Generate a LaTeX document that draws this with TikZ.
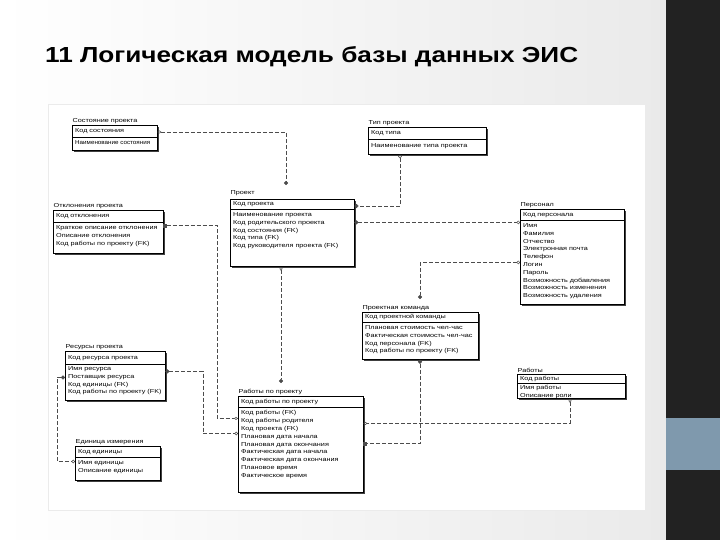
\documentclass[tikz,border=0pt]{standalone}
\usepackage{fontspec}
\setmainfont{Liberation Sans}
\newfontfamily\titlefont[FakeStretch=1.2]{Liberation Sans}
\newfontfamily\erfont[FakeStretch=1.25]{Liberation Sans}
\newfontfamily\ernarrow[FakeStretch=1.08]{Liberation Sans}
\usepackage{tikz}
\usetikzlibrary{arrows.meta, positioning, calc, shadows}
\definecolor{slidedark}{RGB}{34,34,34}
\definecolor{slideblue}{RGB}{127,153,173}
\definecolor{slidegray}{RGB}{234,234,234}

\begin{document}
\begin{tikzpicture}[
    x=1pt, y=-1pt,
    etitle/.style={anchor=south west, inner sep=0.5pt, font=\erfont\fontsize{5.8}{7}\selectfont},
    ekey/.style={draw, fill=white, anchor=north west, inner xsep=3pt, inner ysep=0pt,
                 align=left, font=\erfont\fontsize{5.8}{7}\selectfont,
                 drop shadow={shadow xshift=1.6pt, shadow yshift=-1.6pt, fill=black!75, opacity=1}},
    eatt/.style={draw, fill=white, anchor=north west, inner sep=0pt,
                 drop shadow={shadow xshift=1.6pt, shadow yshift=-1.6pt, fill=black!75, opacity=1}},
    etxt/.style={anchor=north west, inner sep=0pt, align=left,
                 font=\erfont\fontsize{5.8}{7.8}\selectfont},
    rel/.style={draw=black!70, line width=0.5pt, dash pattern=on 4pt off 2pt},
    tO/.tip={Circle[open, length=3.5pt]},
    tD/.tip={Diamond[open, length=4pt, width=3pt]},
    tS/.tip={Square[length=3.5pt]},
    tC/.tip={Circle[length=4pt]}
  ]
  \useasboundingbox (0,0) rectangle (720,540);
  % slide background
  \shade[left color=white, right color=slidegray] (0,0) rectangle (666,540);
  \fill[slidedark] (666,0) rectangle (720,540);
  \fill[slideblue] (666,418) rectangle (720,470);
  \fill[white, draw=black!8] (48,104) rectangle (645,510);
  \node[anchor=base west, inner sep=0pt, font=\titlefont\bfseries\fontsize{21.8}{24}\selectfont]
    (title) at (45,63) {11 Логическая модель базы данных ЭИС};

  % Состояние проекта
  \node[ekey, text width=79pt, minimum height=12pt] (sost) at (72,125) {Код состояния};
  \node[eatt, minimum width=85pt, minimum height=13pt] (sostA) at (sost.south west) {};
  \node[etxt, font=\ernarrow\fontsize{5.8}{7.8}\selectfont] (sostT)
    at ([xshift=3pt, yshift=-3pt]sostA.north west) {Наименование состояния};
  \node[etitle] (sostN) at ([yshift=1pt]sost.north west) {Состояние проекта};

  % Тип проекта
  \node[ekey, text width=112pt, minimum height=12pt] (tip) at (368,127) {Код типа};
  \node[eatt, minimum width=118pt, minimum height=15pt] (tipA) at (tip.south west) {};
  \node[etxt] (tipT) at ([xshift=3pt, yshift=-4pt]tipA.north west) {Наименование типа проекта};
  \node[etitle] (tipN) at ([yshift=1pt]tip.north west) {Тип проекта};

  % Проект
  \node[ekey, text width=118pt, minimum height=10pt] (proj) at (230,199) {Код проекта};
  \node[eatt, minimum width=124pt, minimum height=57pt] (projA) at (proj.south west) {};
  \node[etxt] (projT) at ([xshift=3pt, yshift=-3pt]projA.north west)
    {Наименование проекта\\Код родительского проекта\\Код состояния (FK)\\Код типа (FK)\\Код руководителя проекта (FK)};
  \node[etitle] (projN) at ([yshift=3pt]proj.north west) {Проект};

  % Отклонения проекта
  \node[ekey, text width=104pt, minimum height=12pt] (otkl) at (53,210) {Код отклонения};
  \node[eatt, minimum width=110pt, minimum height=31pt] (otklA) at (otkl.south west) {};
  \node[etxt] (otklT) at ([xshift=3pt, yshift=-3pt]otklA.north west)
    {Краткое описание отклонения\\Описание отклонения\\Код работы по проекту (FK)};
  \node[etitle] (otklN) at ([yshift=1pt]otkl.north west) {Отклонения проекта};

  % Персонал
  \node[ekey, text width=98pt, minimum height=11pt] (pers) at (520,209) {Код персонала};
  \node[eatt, minimum width=104pt, minimum height=84pt] (persA) at (pers.south west) {};
  \node[etxt] (persT) at ([xshift=3pt, yshift=-3pt]persA.north west)
    {Имя\\Фамилия\\Отчество\\Электронная почта\\Телефон\\Логин\\Пароль\\Возможность добавления\\Возможность изменения\\Возможность удаления};
  \node[etitle] (persN) at ([yshift=1pt]pers.north west) {Персонал};

  % Проектная команда
  \node[ekey, text width=110pt, minimum height=10pt] (kom) at (362,312) {Код проектной команды};
  \node[eatt, minimum width=116pt, minimum height=37pt] (komA) at (kom.south west) {};
  \node[etxt] (komT) at ([xshift=3pt, yshift=-3pt]komA.north west)
    {Плановая стоимость чел-час\\Фактическая стоимость чел-час\\Код персонала (FK)\\Код работы по проекту (FK)};
  \node[etitle] (komN) at ([yshift=1pt]kom.north west) {Проектная команда};

  % Ресурсы проекта
  \node[ekey, text width=94pt, minimum height=13pt] (res) at (65,351) {Код ресурса проекта};
  \node[eatt, minimum width=100pt, minimum height=36pt] (resA) at (res.south west) {};
  \node[etxt] (resT) at ([xshift=3pt, yshift=-2pt]resA.north west)
    {Имя ресурса\\Поставщик ресурса\\Код единицы (FK)\\Код работы по проекту (FK)};
  \node[etitle] (resN) at ([yshift=1pt]res.north west) {Ресурсы проекта};

  % Работы
  \node[ekey, text width=102pt, minimum height=9pt] (rab) at (517,374) {Код работы};
  \node[eatt, minimum width=108pt, minimum height=15pt] (rabA) at (rab.south west) {};
  \node[etxt] (rabT) at ([xshift=3pt, yshift=-2pt]rabA.north west) {Имя работы\\Описание роли};
  \node[etitle] (rabN) at ([yshift=1pt]rab.north west) {Работы};

  % Работы по проекту
  \node[ekey, text width=119pt, minimum height=11pt] (rpp) at (238,396) {Код работы по проекту};
  \node[eatt, minimum width=125pt, minimum height=85pt] (rppA) at (rpp.south west) {};
  \node[etxt] (rppT) at ([xshift=3pt, yshift=-3pt]rppA.north west)
    {Код работы (FK)\\Код работы родителя\\Код проекта (FK)\\Плановая дата начала\\Плановая дата окончания\\Фактическая дата начала\\Фактическая дата окончания\\Плановое время\\Фактическое время};
  \node[etitle] (rppN) at ([yshift=1pt]rpp.north west) {Работы по проекту};

  % Единица измерения
  \node[ekey, text width=79pt, minimum height=11pt] (ed) at (75,446) {Код единицы};
  \node[eatt, minimum width=85pt, minimum height=23pt] (edA) at (ed.south west) {};
  \node[etxt] (edT) at ([xshift=3pt, yshift=-3pt]edA.north west) {Имя единицы\\Описание единицы};
  \node[etitle] (edN) at ([yshift=1pt]ed.north west) {Единица измерения};

  % связи
  \draw[rel, tD-tC] ([yshift=-7pt]sost.north east) -| ([xshift=56pt, yshift=14pt]proj.north west);
  \draw[rel, tO-tC] ([xshift=32pt]tipA.south west) |- ([yshift=-7pt]proj.north east);
  \draw[rel, tC-tO] ([yshift=-13pt]projA.north east) -- ([yshift=-2pt]persA.north west);
  \draw[rel, tS-tD] ([yshift=-3pt]otklA.north east) -| ([xshift=-21pt, yshift=-11pt]rppA.north west)
                    -- ([yshift=-11pt]rppA.north west);
  \draw[rel, tD-tC] ([xshift=51pt]projA.south west) -- ([xshift=43pt, yshift=13pt]rpp.north west);
  \draw[rel, tO-tC] ([yshift=-42pt]persA.north west) -| ([xshift=58pt, yshift=13pt]kom.north west);
  \draw[rel, tC-tS] ([xshift=58pt]komA.south west) |- ([yshift=-36pt]rppA.north east);
  \draw[rel, tD-tD] ([xshift=53pt]rabA.south west) |- ([yshift=-16pt]rppA.north east);
  \draw[rel, tC-tO] ([yshift=-7pt]resA.north east) -| ([xshift=-35pt, yshift=-26pt]rppA.north west)
                    -- ([yshift=-26pt]rppA.north west);
  \draw[rel, tC-tO] ([yshift=-13pt]resA.north west) -| ([xshift=-18pt, yshift=-4pt]edA.north west)
                    -- ([yshift=-4pt]edA.north west);
\end{tikzpicture}
\end{document}
